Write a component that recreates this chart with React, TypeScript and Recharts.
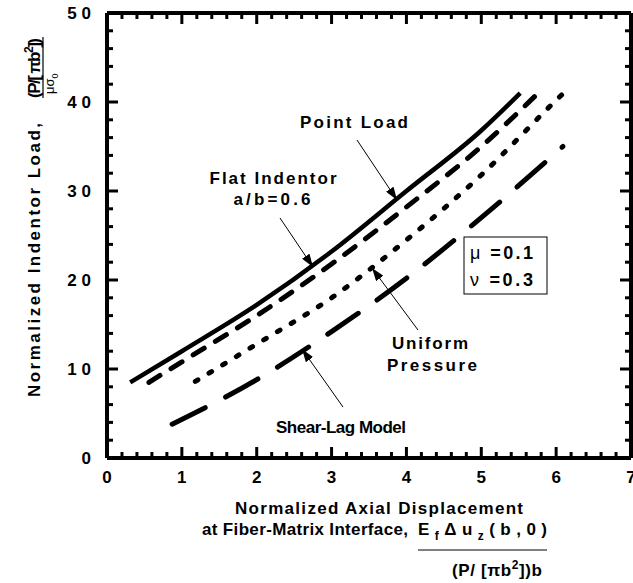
import React from 'react'
import * as R from 'recharts'
import { LineChart, Line, XAxis, YAxis, ReferenceLine, Customized } from 'recharts'

const FONT = '"Liberation Sans", Arial, Helvetica, sans-serif'

// curves: x = normalized displacement, y = normalized load
const pointLoadX = [0.31, 1.0, 2.0, 3.0, 4.0, 5.0, 5.52]
const pointLoadY = [8.5, 12.0, 17.2, 23.2, 30.0, 36.8, 41.0]
const flatX = [0.56, 1.0, 2.0, 3.0, 4.0, 5.0, 5.76]
const flatY = [8.5, 10.8, 16.0, 21.8, 28.2, 35.0, 41.0]
const uniformX = [1.18, 2.0, 3.0, 4.0, 5.0, 6.0, 6.16]
const uniformY = [8.6, 12.8, 18.0, 24.5, 31.8, 40.2, 41.5]
const shearX = [0.87, 2.0, 3.0, 4.0, 5.0, 6.09]
const shearY = [3.8, 8.8, 14.2, 20.2, 27.0, 35.0]

const xLabels = [0, 1, 2, 3, 4, 5, 6, 7]
const yLabels = [0, 10, 20, 30, 40, 50]
const xAllTicks = Array.from({ length: 36 }, (_, i) => Math.round(i * 2) / 10)
const yAllTicks = Array.from({ length: 26 }, (_, i) => i * 2)

const X_MAX = 7
const Y_MAX = 50
const MAJOR_LEN = 11
const MINOR_LEN = 6

const rows = (xs: number[], ys: number[]) => xs.map((x, i) => ({ x, y: ys[i] }))

const tickFont = { fontFamily: FONT, fontWeight: 700, fontSize: 17, fill: '#000' }
const textStyle = { fontFamily: FONT, fontWeight: 700, fontSize: 17, fill: '#000' }
const frame = { stroke: '#000', strokeWidth: 4 }

const usePlotAreaHook: any = (R as any).usePlotArea

// inward tick marks on all four sides, placed from the chart's plot area
function EdgeTicks() {
  const pa = usePlotAreaHook ? usePlotAreaHook() : undefined
  const box = pa && pa.width ? pa : { x: 107, y: 13, width: 524, height: 445 }
  const left = box.x
  const right = box.x + box.width
  const top = box.y
  const bottom = box.y + box.height
  const sx = (v: number) => left + (v / X_MAX) * box.width
  const sy = (v: number) => bottom - (v / Y_MAX) * box.height
  const marks: React.ReactNode[] = []
  xAllTicks.forEach(v => {
    const len = xLabels.includes(v) ? MAJOR_LEN : MINOR_LEN
    const px = sx(v)
    marks.push(<line key={`b${v}`} x1={px} x2={px} y1={bottom} y2={bottom - len} stroke="#000" strokeWidth={3} />)
    marks.push(<line key={`t${v}`} x1={px} x2={px} y1={top} y2={top + len} stroke="#000" strokeWidth={3} />)
  })
  yAllTicks.forEach(v => {
    const len = yLabels.includes(v) ? MAJOR_LEN : MINOR_LEN
    const py = sy(v)
    marks.push(<line key={`l${v}`} x1={left} x2={left + len} y1={py} y2={py} stroke="#000" strokeWidth={3} />)
    marks.push(<line key={`r${v}`} x1={right} x2={right - len} y1={py} y2={py} stroke="#000" strokeWidth={3} />)
  })
  return <g>{marks}</g>
}

function Annotations() {
  return (
    <g>
      <defs>
        <marker id="ah" markerWidth={13} markerHeight={9} refX={13} refY={4.5} orient="auto" markerUnits="userSpaceOnUse">
          <path d="M0,0 L13,4.5 L0,9 z" fill="#000" />
        </marker>
      </defs>

      <EdgeTicks />

      {/* curve annotations */}
      <text x={354} y={128} textAnchor="middle" textLength={108} lengthAdjust="spacing" style={textStyle}>Point Load</text>
      <line x1={357} y1={140} x2={397} y2={200} stroke="#000" strokeWidth={1} markerEnd="url(#ah)" />
      <text x={273} y={184} textAnchor="middle" textLength={127} lengthAdjust="spacing" style={textStyle}>Flat Indentor</text>
      <text x={272} y={205} textAnchor="middle" textLength={77} lengthAdjust="spacing" style={textStyle}>a/b=0.6</text>
      <line x1={280} y1={218} x2={313} y2={267} stroke="#000" strokeWidth={1} markerEnd="url(#ah)" />
      <text x={430} y={349} textAnchor="middle" textLength={76} lengthAdjust="spacing" style={textStyle}>Uniform</text>
      <text x={432} y={371} textAnchor="middle" textLength={90} lengthAdjust="spacing" style={textStyle}>Pressure</text>
      <line x1={418} y1={330} x2={372} y2={268} stroke="#000" strokeWidth={1} markerEnd="url(#ah)" />
      <text x={341} y={433} textAnchor="middle" textLength={130} lengthAdjust="spacing" style={textStyle}>Shear-Lag Model</text>
      <line x1={343} y1={407} x2={302} y2={349} stroke="#000" strokeWidth={1} markerEnd="url(#ah)" />

      {/* parameter box */}
      <rect x={464} y={237} width={83} height={57} fill="#fff" stroke="#000" strokeWidth={1} />
      <text x={470} y={259} textLength={63} lengthAdjust="spacing" style={{ ...textStyle, fontSize: 18 }}>
        <tspan fontWeight={400}>μ</tspan> =0.1
      </text>
      <text x={470} y={286} textLength={63} lengthAdjust="spacing" style={{ ...textStyle, fontSize: 18 }}>
        <tspan fontWeight={400}>ν</tspan> =0.3
      </text>

      {/* y-axis title */}
      <g transform="translate(40,397) rotate(-90)">
        <text x={0} y={0} textLength={274} lengthAdjust="spacing" style={textStyle}>
          Normalized Indentor Load,
        </text>
        <text x={299} y={0} textLength={60} lengthAdjust="spacing" style={textStyle}>
          (P/[ πb<tspan dy={-7} fontSize={12}>2</tspan><tspan dy={7}>])</tspan>
        </text>
        <line x1={299} x2={360} y1={3} y2={3} stroke="#000" strokeWidth={1.2} />
        <text x={303} y={14} style={{ ...textStyle, fontSize: 13, fontWeight: 400 }}>
          μσ<tspan dy={4} fontSize={9}>0</tspan>
        </text>
      </g>

      {/* x-axis title */}
      <text x={379} y={514} textAnchor="middle" textLength={288} lengthAdjust="spacing" style={textStyle}>
        Normalized Axial Displacement
      </text>
      <text x={202} y={535} textLength={206} lengthAdjust="spacing" style={textStyle}>
        at Fiber-Matrix Interface,
      </text>
      <text x={418} y={535} textLength={129} lengthAdjust="spacing" style={textStyle}>
        E<tspan dy={5} fontSize={12}>f</tspan><tspan dy={-5}>Δu</tspan><tspan dy={5} fontSize={12}>z</tspan><tspan dy={-5}>(b,0)</tspan>
      </text>
      <line x1={418} x2={547} y1={550} y2={550} stroke="#000" strokeWidth={1} />
      <text x={452} y={576} textLength={90} lengthAdjust="spacing" style={textStyle}>
        (P/ [πb<tspan dy={-7} fontSize={12}>2</tspan><tspan dy={7}>])b</tspan>
      </text>
    </g>
  )
}

export default function App() {
  return (
    <div style={{ position: 'absolute', left: 0, top: 0, width: 633, height: 583, background: '#fff' }}>
      <LineChart width={633} height={583} margin={{ top: 13, right: 2, bottom: 95, left: 47 }}>
        <XAxis
          dataKey="x"
          type="number"
          domain={[0, X_MAX]}
          ticks={xLabels}
          interval={0}
          height={30}
          tickSize={0}
          tickMargin={13}
          tickLine={false}
          axisLine={frame}
          tick={tickFont}
          allowDataOverflow
        />
        <YAxis
          type="number"
          domain={[0, Y_MAX]}
          ticks={yLabels}
          interval={0}
          width={60}
          tickSize={0}
          tickMargin={16}
          tickLine={false}
          axisLine={frame}
          tick={tickFont}
          tickFormatter={(v: number) => String(v).split('').join(' ')}
          allowDataOverflow
        />
        <ReferenceLine y={Y_MAX} stroke="#000" strokeWidth={4} />
        <ReferenceLine x={X_MAX} stroke="#000" strokeWidth={4} />

        <Line data={rows(pointLoadX, pointLoadY)} dataKey="y" type="monotone" stroke="#000"
          strokeWidth={4.5} dot={false} isAnimationActive={false} />
        <Line data={rows(flatX, flatY)} dataKey="y" type="monotone" stroke="#000"
          strokeWidth={5} strokeDasharray="13 13" strokeLinecap="round" dot={false} isAnimationActive={false} />
        <Line data={rows(uniformX, uniformY)} dataKey="y" type="monotone" stroke="#000"
          strokeWidth={5} strokeDasharray="3 13" strokeLinecap="round" dot={false} isAnimationActive={false} />
        <Line data={rows(shearX, shearY)} dataKey="y" type="monotone" stroke="#000"
          strokeWidth={5} strokeDasharray="37 23" strokeLinecap="round" dot={false} isAnimationActive={false} />

        <Customized component={Annotations} />
      </LineChart>
    </div>
  )
}
